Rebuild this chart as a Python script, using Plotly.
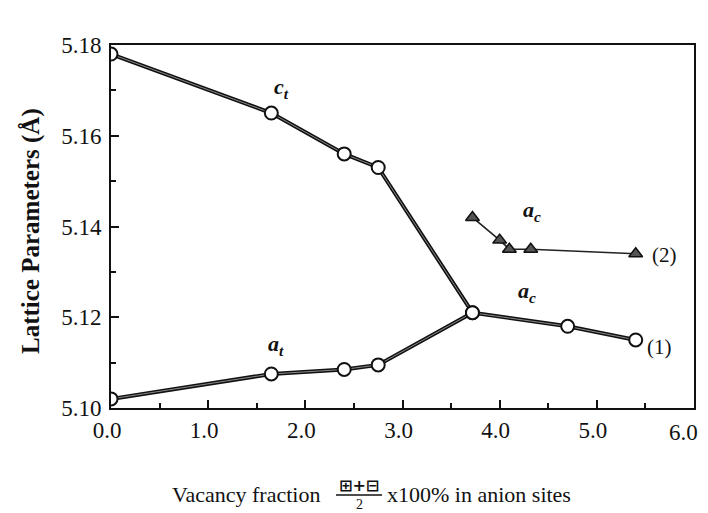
import plotly.graph_objects as go

# data
x_ct = [0.0, 1.65, 2.4, 2.75, 3.72, 4.7, 5.4]
y_ct = [5.178, 5.165, 5.156, 5.153, 5.121, 5.118, 5.115]

x_at = [0.0, 1.65, 2.4, 2.75, 3.72]
y_at = [5.102, 5.1075, 5.1085, 5.1095, 5.121]

x_ac2 = [3.72, 4.0, 4.1, 4.32, 5.4]
y_ac2 = [5.142, 5.137, 5.135, 5.135, 5.134]

x_ticks = [0, 1, 2, 3, 4, 5, 6]
x_ticklabels = ['0.0', '1.0', '2.0', '3.0', '4.0', '5.0', '6.0']
y_ticks = [5.10, 5.12, 5.14, 5.16, 5.18]
y_ticklabels = ['5.10', '5.12', '5.14', '5.16', '5.18']

serif = 'Liberation Serif, Times New Roman, serif'
ink = '#111111'

# page body has an 8px margin, so the figure is 16px smaller than the window
W, H = 700, 505
L, R, T, B = 103, 14, 37, 105


def px(x):
    # screen x pixel -> paper coordinate
    return (x - 111) / 583


def py(y):
    # screen y pixel -> paper coordinate
    return (408 - y) / 363


fig = go.Figure()

# thick "double" line look: dark outer line + thin grey core
for xs, ys in [(x_ct, y_ct), (x_at, y_at)]:
    fig.add_trace(go.Scatter(x=xs, y=ys, mode='lines',
                             line=dict(color=ink, width=4),
                             showlegend=False, hoverinfo='skip'))
    fig.add_trace(go.Scatter(x=xs, y=ys, mode='lines',
                             line=dict(color='#8a8a8a', width=1),
                             showlegend=False, hoverinfo='skip'))
    fig.add_trace(go.Scatter(x=xs, y=ys, mode='markers',
                             marker=dict(symbol='circle', size=13, color='white',
                                         line=dict(color=ink, width=2)),
                             showlegend=False))

fig.add_trace(go.Scatter(x=x_ac2, y=y_ac2, mode='lines+markers',
                         line=dict(color='#222222', width=1.6),
                         marker=dict(symbol='triangle-up', size=12, color='#555555',
                                     line=dict(color=ink, width=1.5)),
                         showlegend=False))

lab_font = dict(family=serif, size=22, color=ink)
annots = [
    dict(x=1.75, y=5.1705, text='<b><i>c</i></b><sub><b><i>t</i></b></sub>'),
    dict(x=1.70, y=5.1138, text='<b><i>a</i></b><sub><b><i>t</i></b></sub>'),
    dict(x=4.33, y=5.1435, text='<b><i>a</i></b><sub><b><i>c</i></b></sub>'),
    dict(x=4.28, y=5.1255, text='<b><i>a</i></b><sub><b><i>c</i></b></sub>'),
]
for a in annots:
    fig.add_annotation(x=a['x'], y=a['y'], text=a['text'], showarrow=False,
                       font=lab_font, xref='x', yref='y')

fig.add_annotation(x=5.55, y=5.1338, text='(2)', showarrow=False, xanchor='left',
                   font=dict(family=serif, size=21, color=ink))
fig.add_annotation(x=5.5, y=5.1135, text='(1)', showarrow=False, xanchor='left',
                   font=dict(family=serif, size=21, color=ink))

# last x tick label sits at the page edge: draw it right-anchored so it is not clipped
tick_font = dict(family=serif, size=23, color=ink)
x_ticktext = x_ticklabels[:-1] + ['']
fig.add_annotation(x=px(700), y=py(433), xref='paper', yref='paper',
                   text=x_ticklabels[-1], showarrow=False, xanchor='right',
                   yanchor='middle', font=tick_font)

# y-axis title as an annotation so it can sit further left
fig.add_annotation(x=px(31), y=py(231), xref='paper', yref='paper',
                   text='<b>Lattice Parameters (Å)</b>', textangle=-90,
                   showarrow=False, xanchor='center', yanchor='middle',
                   font=dict(family=serif, size=25, color=ink))

# x-axis title built from pieces (fraction in the middle)
tfont = dict(family=serif, size=22, color=ink)
fig.add_annotation(x=px(322), y=py(494), xref='paper', yref='paper',
                   text='Vacancy fraction', showarrow=False, xanchor='right',
                   yanchor='middle', font=tfont)
fig.add_annotation(x=px(359), y=py(485), xref='paper', yref='paper',
                   text='<b>⊞+⊟</b>', showarrow=False, xanchor='center',
                   yanchor='middle', font=dict(family='DejaVu Sans', size=16, color=ink))
fig.add_annotation(x=px(359), y=py(504), xref='paper', yref='paper',
                   text='2', showarrow=False, xanchor='center',
                   yanchor='middle', font=dict(family=serif, size=14, color=ink))
fig.add_annotation(x=px(385), y=py(494), xref='paper', yref='paper',
                   text='x100% in anion sites', showarrow=False, xanchor='left',
                   yanchor='middle', font=tfont)
fig.add_shape(type='line', xref='paper', yref='paper',
              x0=px(336), x1=px(382), y0=py(495), y1=py(495),
              line=dict(color=ink, width=1.5))

fig.update_layout(
    width=W, height=H,
    margin=dict(l=L, r=R, t=T, b=B),
    plot_bgcolor='white',
    paper_bgcolor='white',
    showlegend=False,
    xaxis=dict(
        range=[0, 6],
        tickvals=x_ticks, ticktext=x_ticktext,
        ticks='inside', ticklen=8, tickwidth=1.5, tickcolor=ink,
        minor=dict(dtick=0.5, ticks='inside', ticklen=5, tickwidth=1.5, tickcolor=ink),
        showline=True, linecolor=ink, linewidth=2, mirror=True,
        showgrid=False, zeroline=False,
        automargin=False,
        ticklabelshift=-4,
        tickfont=tick_font,
    ),
    yaxis=dict(
        range=[5.10, 5.18],
        tickvals=y_ticks, ticktext=y_ticklabels,
        ticks='inside', ticklen=8, tickwidth=1.5, tickcolor=ink,
        minor=dict(dtick=0.01, ticks='inside', ticklen=5, tickwidth=1.5, tickcolor=ink),
        showline=True, linecolor=ink, linewidth=2, mirror=True,
        showgrid=False, zeroline=False,
        automargin=False,
        ticklabelstandoff=3,
        tickfont=tick_font,
    ),
)

fig.write_html("out.html")
